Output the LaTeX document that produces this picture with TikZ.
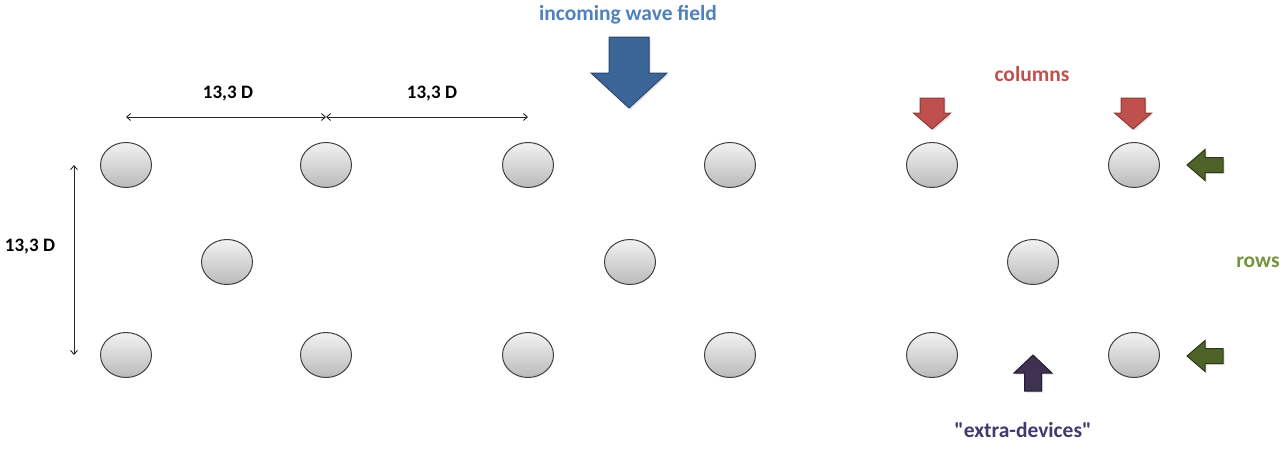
\documentclass[tikz,border=0pt]{standalone}
\usepackage{fontspec}
\setmainfont{Carlito}
\newfontfamily\labelfont{Carlito}[Ligatures=TeXOff]
\usetikzlibrary{arrows.meta, shapes.geometric, shadows}
\definecolor{wavefill}{HTML}{3B6597}
\definecolor{wavedraw}{HTML}{2A4870}
\definecolor{wavetext}{HTML}{4F81BD}
\definecolor{colfill}{HTML}{C0504D}
\definecolor{coldraw}{HTML}{8C3836}
\definecolor{rowfill}{HTML}{4F6228}
\definecolor{rowdraw}{HTML}{2C3816}
\definecolor{rowtext}{HTML}{77933C}
\definecolor{extfill}{HTML}{3F3151}
\definecolor{extdraw}{HTML}{241C30}
\definecolor{exttext}{HTML}{403B6E}

\begin{document}
\begin{tikzpicture}[x=1pt, y=-1pt,
    device/.style={ellipse, draw=black!75, line width=1pt, top color=black!5,
                   bottom color=black!27, minimum width=51pt, minimum height=45pt,
                   inner sep=0pt},
    dim/.style={{Straight Barb[length=4pt,width=7pt]}-{Straight Barb[length=4pt,width=7pt]},
                line width=0.9pt, black!85},
    txt/.style={font=\labelfont\bfseries\fontsize{21.5}{24}\selectfont, inner sep=0pt},
    dimtxt/.style={font=\labelfont\bfseries\fontsize{19}{22}\selectfont, inner sep=0pt},
    blockarrow/.style={line width=1pt, line join=miter,
                       drop shadow={opacity=0.25, shadow xshift=1.5pt, shadow yshift=-1.5pt}}
]
    \useasboundingbox (0,0) rectangle (1282,450);

    % devices
    \foreach \i/\x in {1/126,2/326,3/528,4/730,5/932,6/1134}{
        \node[device] (a\i) at (\x,165) {};
        \node[device] (b\i) at (\x,355) {};
    }
    \node[device] (m1) at (227,262) {};
    \node[device] (m2) at (630,262) {};
    \node[device] (m3) at (1033,262) {};

    % spacing
    \coordinate (dimtop) at (0,117);
    \coordinate (dimleft) at (74,0);
    \draw[dim] (a1 |- dimtop) -- (a2 |- dimtop);
    \draw[dim] (a2 |- dimtop) -- (a3 |- dimtop);
    \draw[dim] (dimleft |- a1) -- (dimleft |- b1);
    \node[dimtxt] (d1) at (228,94) {13,3 D};
    \node[dimtxt] (d2) at (432,94) {13,3 D};
    \node[dimtxt] (d3) at (30,247) {13,3 D};

    % incoming waves
    \draw[blockarrow, fill=wavefill, draw=wavedraw]
        (609,37) -- (649,37) -- (649,73) -- (667,73) -- (629,108)
        -- (591,73) -- (609,73) -- cycle;
    \node[txt, text=wavetext] (wavelbl) at (628,15) {incoming wave field};

    % columns
    \foreach \x in {932,1133}
        \draw[blockarrow, fill=colfill, draw=coldraw]
            (\x-12,98) -- (\x+12,98) -- (\x+12,113) -- (\x+18.5,113) -- (\x,129)
            -- (\x-18.5,113) -- (\x-12,113) -- cycle;
    \node[txt, text=colfill] (collbl) at (1032,74) {columns};

    % rows
    \foreach \y in {165,356}
        \draw[blockarrow, fill=rowfill, draw=rowdraw]
            (1223,\y-7.5) -- (1223,\y+7.5) -- (1205,\y+7.5) -- (1205,\y+15.5)
            -- (1187,\y) -- (1205,\y-15.5) -- (1205,\y-7.5) -- cycle;
    \node[txt, text=rowtext] (rowlbl) at (1258,262) {rows};

    % extra devices
    \draw[blockarrow, fill=extfill, draw=extdraw]
        (1024.5,391) -- (1041.5,391) -- (1041.5,373) -- (1052,373) -- (1033,355)
        -- (1014,373) -- (1024.5,373) -- cycle;
    \node[txt, text=exttext] (extlbl) at (1023,430) {"extra-devices"};
\end{tikzpicture}
\end{document}
